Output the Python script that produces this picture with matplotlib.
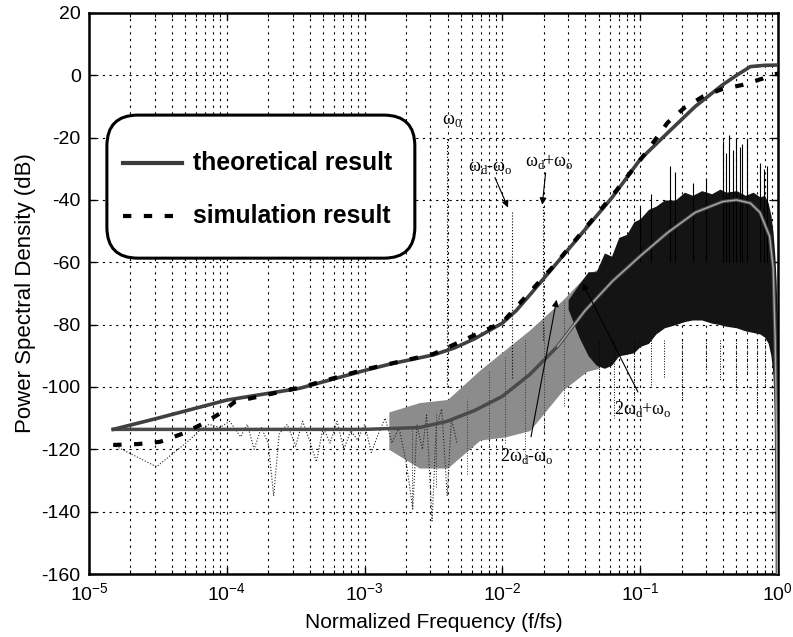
import matplotlib
matplotlib.use("Agg")
import matplotlib.pyplot as plt
from matplotlib.lines import Line2D
from matplotlib.patches import FancyBboxPatch

plt.rcParams.update({
    "font.family": ["Liberation Sans", "DejaVu Sans"],
    "font.size": 14,
    "axes.unicode_minus": False,
    "mathtext.fontset": "custom",
    "mathtext.rm": "Liberation Serif",
    "xtick.direction": "in",
    "ytick.direction": "in",
    "xtick.top": True,
    "ytick.right": True,
})

# theoretical curves (frequency normalised to fs, level in dB)
f_hi = [1.5e-5, 3.16e-5, 1e-4, 3.39e-4, 1e-3, 1.58e-3, 3.16e-3, 4.47e-3, 6.31e-3,
        7.94e-3, 1e-2, 0.0126, 0.0158, 0.0251, 0.0398, 0.0631, 0.1, 0.158,
        0.251, 0.398, 0.501, 0.631, 0.794, 1.0]
db_hi = [-113.6, -110, -104.2, -100.4, -94.7, -92.5, -89.7, -87.5, -84.5,
         -82, -79.5, -75.5, -70.5, -60, -49.5, -39, -27, -18.5,
         -10, -3, 0, 2.8, 3.2, 3.3]

f_lo = [1.5e-5, 1e-3, 2.51e-3, 3.98e-3, 6.31e-3, 1e-2, 0.0158, 0.0251, 0.0398,
        0.0631, 0.1, 0.158, 0.251, 0.398, 0.501, 0.631, 0.741, 0.871,
        0.925, 0.955, 0.977, 0.991]
db_lo = [-113.6, -113.6, -113, -111, -107.5, -103, -96, -87, -75.5,
         -66, -58, -50.5, -44, -40.5, -40, -41, -44, -51.7,
         -62, -85, -115, -160]

# simulation result
f_sim = [1.5e-5, 2.28e-5, 3.27e-5, 4.83e-5, 6.76e-5, 8.9e-5, 1.15e-4, 3.39e-4,
         1e-3, 3.16e-3, 1e-2, 0.0251, 0.0631, 0.105, 0.129, 0.158, 0.211,
         0.288, 0.389, 0.55, 0.767, 0.912, 1.0]
db_sim = [-118.6, -118.3, -117.6, -114.9, -111.7, -108.5, -104.7, -100.2,
          -94.4, -89.4, -79.3, -59.8, -38.5, -26, -20.6, -15.2, -10.3,
          -6.7, -4.5, -3.1, -1.1, 0.3, 0.5]

# measured spectrum, low-frequency trace
f_trace = [1.5e-5, 3.09e-5, 5.37e-5, 6.31e-5, 7.41e-5, 8.91e-5, 1.05e-4,
           1.26e-4, 1.41e-4, 1.58e-4, 1.78e-4, 2.0e-4, 2.19e-4, 2.4e-4,
           2.75e-4, 3.16e-4, 3.55e-4, 3.98e-4, 4.47e-4, 5.01e-4, 5.62e-4,
           6.31e-4, 7.08e-4, 7.94e-4, 8.91e-4, 1e-3, 1.12e-3, 1.26e-3,
           1.41e-3, 1.58e-3, 1.78e-3, 2.0e-3, 2.24e-3, 2.4e-3, 2.63e-3,
           2.82e-3, 3.09e-3, 3.31e-3, 3.63e-3, 3.98e-3, 4.27e-3, 4.68e-3]
db_trace = [-118.6, -125.6, -117, -114, -112, -113, -111,
            -116, -112, -120, -113, -118, -135, -115,
            -112, -119, -111, -117, -124, -113, -118,
            -111, -120, -114, -117, -112, -121, -115,
            -110, -118, -113, -124, -139, -112, -120,
            -109, -143, -113, -107, -135, -110, -118]

# transition band of the measured spectrum
f_band = [1.5e-3, 2.5e-3, 4e-3, 6.9e-3, 0.0105, 0.0158, 0.0275, 0.041, 0.05]
band_hi = [-108, -105, -104, -94.5, -88, -81.7, -72, -64, -62]
band_lo = [-120, -126, -126, -117, -116, -114, -101, -95, -94]

# dense high-frequency part of the measured spectrum
f_dense = [0.03, 0.036, 0.042, 0.048, 0.055, 0.062, 0.07, 0.08, 0.09, 0.1,
           0.115, 0.13, 0.15, 0.18, 0.21, 0.24, 0.28, 0.33, 0.38, 0.42,
           0.5, 0.58, 0.66, 0.74, 0.8, 0.85, 0.89, 0.92, 0.95, 0.97, 0.99]
dense_hi = [-72, -67, -63, -63, -57, -58, -52, -51, -47, -46,
            -43, -42, -40, -40, -37.5, -38.5, -37, -38, -36.5, -37.5,
            -37, -38.5, -37.5, -39, -38.5, -41, -45, -50, -58, -66, -80]
dense_lo = [-75, -84, -90, -93, -94, -93, -90, -89.5, -89, -87,
            -86, -83, -81, -80, -79, -78.5, -78.5, -79.5, -80, -80.5,
            -81, -82, -82.5, -83, -84, -86, -90, -96, -110, -140, -160]

# isolated spurs above and below the dense part
f_spur_up = [0.1, 0.12, 0.166, 0.178, 0.24, 0.3, 0.4, 0.42, 0.44, 0.47, 0.5,
             0.53, 0.55, 0.6, 0.74, 0.79, 0.83]
db_spur_up = [-42, -38, -29, -31, -34.5, -33, -21, -25, -19, -24, -20,
              -23, -22, -20, -28, -30, -29]
f_spur_dn = [0.05, 0.065, 0.09, 0.12, 0.15, 0.2, 0.3, 0.38, 0.5, 0.6, 0.7, 0.8]
db_spur_dn = [-105, -110, -104, -100, -97, -104, -95, -98, -101, -96, -108, -100]
f_spur_mid = [2.2e-3, 3.3e-3, 5.5e-3, 8e-3, 0.0105, 0.0145, 0.02, 0.028]
db_mid_top = [-113, -108, -104, -95, -90, -85, -80, -72]
db_mid_bot = [-139, -132, -128, -125, -118, -124, -114, -106]

# tones
f_tone = [3.94e-3, 0.01167, 0.01958]
db_tone_top = [-20, -44, -42]
db_tone_bot = [-100, -97, -85]

fig = plt.figure(figsize=(7.93, 6.37), dpi=100)
ax = fig.add_axes([0.1122, 0.0989, 0.8688, 0.8807])

# measured spectrum
ax.fill_between(f_band, band_lo, band_hi, color="#8c8c8c", lw=0, zorder=2)
ax.fill_between(f_dense, dense_lo, dense_hi, color="#141414", lw=0, zorder=2)
ax.vlines(f_spur_up, -60, db_spur_up, color="k", lw=0.8, zorder=2)
ax.vlines(f_spur_dn, -85, db_spur_dn, color="k", lw=0.7, linestyles=":", zorder=2)
ax.vlines(f_spur_mid, db_mid_bot, db_mid_top, color="#333", lw=0.7,
          linestyles=":", zorder=2)
ax.plot(f_trace, db_trace, ":", color="#222", lw=0.8, zorder=2)
ax.vlines(f_tone, db_tone_bot, db_tone_top, color="k", lw=0.8,
          linestyles=":", zorder=2)

# theory
ax.plot(f_lo, db_lo, color="#4a4a4a", lw=2.5, zorder=3)
ax.plot(f_lo[7:], db_lo[7:], color="#a8a8a8", lw=1.0, zorder=3)
ax.plot(f_hi, db_hi, color="#404040", lw=2.6, zorder=3)
# simulation
ax.plot(f_sim, db_sim, color="k", lw=3, linestyle=(0, (2, 3)), zorder=4)

ax.set_xscale("log")
ax.set_xlim(1e-5, 1)
ax.set_ylim(-160, 20)
ax.set_yticks(range(-160, 21, 20))
ax.set_axisbelow(True)
ax.grid(True, which="major", color="k", linestyle=(0, (2, 4)), linewidth=0.8)
ax.grid(True, which="minor", axis="x", color="k", linestyle=(0, (2, 4)),
        linewidth=0.8)
ax.tick_params(which="major", length=5, width=1, labelsize=14, pad=6)
ax.tick_params(which="minor", length=3, width=0.8)
for s in ax.spines.values():
    s.set_linewidth(1.8)

ax.set_xlabel("Normalized Frequency (f/fs)", fontsize=15, labelpad=6)
ax.set_ylabel("Power Spectral Density (dB)", fontsize=16, labelpad=4)

# annotations
serif = dict(family="Liberation Serif", fontsize=13, ha="center", va="center")
arrow = dict(arrowstyle="-|>", color="k", lw=0.8, mutation_scale=10,
             shrinkA=0, shrinkB=0)
ax.text(0.0043, -14.5, "ω$_\\mathrm{0}$", **serif)
ax.annotate("", xy=(0.01099, -42.4), xytext=(0.00883, -32.8), arrowprops=arrow)
ax.text(0.00813, -29.5, "ω$_\\mathrm{d}$-ω$_\\mathrm{o}$", **serif)
ax.annotate("", xy=(0.0195, -41.5), xytext=(0.0206, -31.3), arrowprops=arrow)
ax.text(0.0221, -27.5, "ω$_\\mathrm{d}$+ω$_\\mathrm{o}$", **serif)
ax.annotate("", xy=(0.02477, -72), xytext=(0.01614, -116), arrowprops=arrow)
ax.text(0.01507, -122, "2ω$_\\mathrm{d}$-ω$_\\mathrm{o}$", **serif)
ax.annotate("", xy=(0.0383, -66.7), xytext=(0.0964, -101.6), arrowprops=arrow)
ax.text(0.1054, -107, "2ω$_\\mathrm{d}$+ω$_\\mathrm{o}$", **serif)

# legend box drawn by hand (rounded frame like the original)
box = FancyBboxPatch((0.026, 0.563), 0.447, 0.255, transform=ax.transAxes,
                     boxstyle="round,pad=0,rounding_size=0.045",
                     mutation_aspect=689 / 561, fc="white", ec="k", lw=2.2,
                     zorder=6)
ax.add_patch(box)
ax.add_line(Line2D([0.049, 0.135], [0.733, 0.733], transform=ax.transAxes,
                   color="#3a3a3a", lw=3, zorder=7))
ax.add_line(Line2D([0.049, 0.135], [0.638, 0.638], transform=ax.transAxes,
                   color="k", lw=3, linestyle=(0, (2, 3)), zorder=7))
ax.text(0.151, 0.733, "theoretical result", transform=ax.transAxes,
        fontsize=17.8, fontweight="bold", va="center", zorder=7)
ax.text(0.151, 0.638, "simulation result", transform=ax.transAxes,
        fontsize=17.8, fontweight="bold", va="center", zorder=7)

fig.savefig("out.png", dpi=100)
